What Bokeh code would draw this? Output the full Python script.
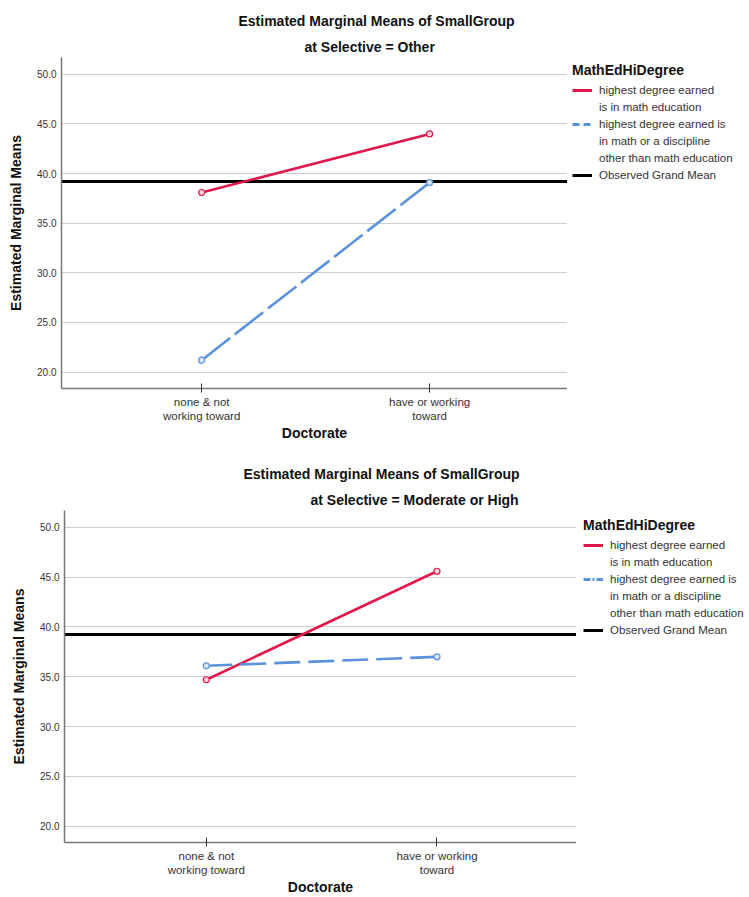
from bokeh.plotting import figure
from bokeh.models import (Legend, LegendItem, Title, ColumnDataSource, FixedTicker, Range1d,
                          PrintfTickFormatter)
from bokeh.layouts import column, row
from bokeh.embed import file_html
from bokeh.resources import INLINE

# ---- data ----
categories = ["none & not\nworking toward", "have or working\ntoward"]
x_pos = [0, 1]
red_other = [38.1, 44.0]
blue_other = [21.2, 39.1]
red_modhigh = [34.7, 45.6]
blue_modhigh = [36.1, 37.0]
grand_mean = 39.2
y_ticks = [20, 25, 30, 35, 40, 45, 50]
main_title = "Estimated Marginal Means of SmallGroup"
subtitles = ["at Selective = Other", "at  Selective = Moderate or High"]
legend_title = "MathEdHiDegree"
series_labels = ["highest degree earned\nis in math education",
                 "highest degree earned is\nin math or a discipline\nother than math education",
                 "Observed Grand Mean"]

RED = "#e2184a"
BLUE = "#5b92dc"
FONT = "Liberation Sans"
TOTAL_W = 749


def make_panel(red, blue, subtitle, width, frame_right, height, border_left, border_top,
               border_bottom, main_offset, sub_offset, main_standoff, sub_standoff, blue_dash):
    p = figure(width=width, height=height, output_backend="svg", toolbar_location=None,
               x_range=Range1d(-0.615, 1.605), y_range=Range1d(18.35, 51.7),
               min_border_left=border_left, min_border_right=width - frame_right,
               min_border_top=border_top, min_border_bottom=border_bottom, title=None)
    p.outline_line_color = None
    p.background_fill_color = "white"

    src = ColumnDataSource(dict(x=x_pos, red=red, blue=blue))

    p.ygrid.ticker = FixedTicker(ticks=y_ticks)
    p.ygrid.grid_line_color = "#cfcfcf"
    p.ygrid.grid_line_width = 1.2
    p.xgrid.grid_line_color = None

    p.hspan(y=[grand_mean], line_color="black", line_width=3)

    p.line("x", "red", source=src, line_color=RED, line_width=2.6)
    p.scatter("x", "red", source=src, size=6, line_color=RED, fill_color="#f8d0da", line_width=1.2)
    p.line("x", "blue", source=src, line_color=BLUE, line_width=2.6, line_dash=blue_dash)
    p.scatter("x", "blue", source=src, size=6, line_color=BLUE, fill_color="#d8e6f8", line_width=1.2)

    # axes
    p.xaxis.ticker = FixedTicker(ticks=x_pos)
    p.xaxis.major_label_overrides = {x: c for x, c in zip(x_pos, categories)}
    p.xaxis.axis_label = "Doctorate"
    p.xaxis.axis_label_text_font = FONT
    p.xaxis.axis_label_text_font_size = "14px"
    p.xaxis.axis_label_text_font_style = "bold"
    p.xaxis.axis_label_text_color = "#111111"
    p.xaxis.axis_label_standoff = 0
    p.xaxis.major_label_text_font = FONT
    p.xaxis.major_label_text_font_size = "11.5px"
    p.xaxis.major_label_text_color = "#333333"
    p.xaxis.major_label_standoff = 3
    p.xaxis.major_tick_in = 5
    p.xaxis.major_tick_out = 4
    p.xaxis.major_tick_line_color = "#333333"
    p.xaxis.minor_tick_line_color = None
    p.xaxis.axis_line_color = "#777777"
    p.xaxis.axis_line_width = 1.5

    p.yaxis.ticker = FixedTicker(ticks=y_ticks)
    p.yaxis.formatter = PrintfTickFormatter(format="%.1f")
    p.yaxis.axis_label = "Estimated Marginal Means"
    p.yaxis.axis_label_text_font = FONT
    p.yaxis.axis_label_text_font_size = "14px"
    p.yaxis.axis_label_text_font_style = "bold"
    p.yaxis.axis_label_text_color = "#111111"
    p.yaxis.axis_label_standoff = 10
    p.yaxis.major_label_text_font = FONT
    p.yaxis.major_label_text_font_size = "10px"
    p.yaxis.major_label_text_color = "#333333"
    p.yaxis.major_label_standoff = 5
    p.yaxis.major_tick_in = 0
    p.yaxis.major_tick_out = 0
    p.yaxis.minor_tick_line_color = None
    p.yaxis.axis_line_color = "#777777"
    p.yaxis.axis_line_width = 1.5

    p.add_layout(Title(text=subtitle, align="left", offset=sub_offset, text_font=FONT,
                       text_font_size="14px", text_font_style="bold", text_color="#111111",
                       standoff=sub_standoff), "above")
    p.add_layout(Title(text=main_title, align="left", offset=main_offset, text_font=FONT,
                       text_font_size="14px", text_font_style="bold", text_color="#111111",
                       standoff=main_standoff), "above")
    return p


def make_legend(width, height, top, bottom, margin, blue_legend_dash):
    q = figure(width=width, height=height, output_backend="svg", toolbar_location=None,
               x_range=Range1d(0, 1), y_range=Range1d(0, 1),
               min_border_left=0, min_border_right=0, min_border_top=top,
               min_border_bottom=bottom, title=None)
    q.axis.visible = False
    q.grid.visible = False
    q.outline_line_color = None
    s = ColumnDataSource(dict(x=[float("nan")], y=[float("nan")]))
    r1 = q.line("x", "y", source=s, line_color=RED, line_width=3)
    r2 = q.line("x", "y", source=s, line_color=BLUE, line_width=3, line_dash=blue_legend_dash)
    r3 = q.line("x", "y", source=s, line_color="black", line_width=3)
    items = []
    for label, rend in zip(series_labels, [r1, r2, r3]):
        lines = label.split("\n")
        items.append(LegendItem(label=lines[0], renderers=[rend]))
        for extra in lines[1:]:
            blank = q.line("x", "y", source=s, line_alpha=0)
            items.append(LegendItem(label=extra, renderers=[blank]))
    legend = Legend(items=items, title=legend_title, location="top_left")
    legend.title_text_font = FONT
    legend.title_text_font_size = "14px"
    legend.title_text_font_style = "bold"
    legend.title_text_color = "#111111"
    legend.title_standoff = 5
    legend.label_text_font = FONT
    legend.label_text_font_size = "11.5px"
    legend.label_text_color = "#333333"
    legend.label_height = 14
    legend.glyph_width = 20
    legend.glyph_height = 14
    legend.label_standoff = 7
    legend.spacing = 3
    legend.padding = 4
    legend.margin = margin
    legend.border_line_color = None
    legend.background_fill_alpha = 0
    q.add_layout(legend)
    return q


W1 = 567
W2 = 576
p1 = make_panel(red_other, blue_other, subtitles[0], W1, 567, 450, 61, 57, 62, 177, 243, 10, 6, "36 6")
l1 = make_legend(TOTAL_W - W1, 450, 57, 62, 5, "7 4")
p2 = make_panel(red_modhigh, blue_modhigh, subtitles[1], W2, 576, 447, 64, 60, 50, 179, 246, 11, 5, "26 8")
l2 = make_legend(TOTAL_W - W2, 447, 60, 50, 7, "7 2 2 2")

layout = column(row(p1, l1, spacing=0), row(p2, l2, spacing=0), spacing=0)
open("out.html", "w").write(file_html(layout, INLINE))
